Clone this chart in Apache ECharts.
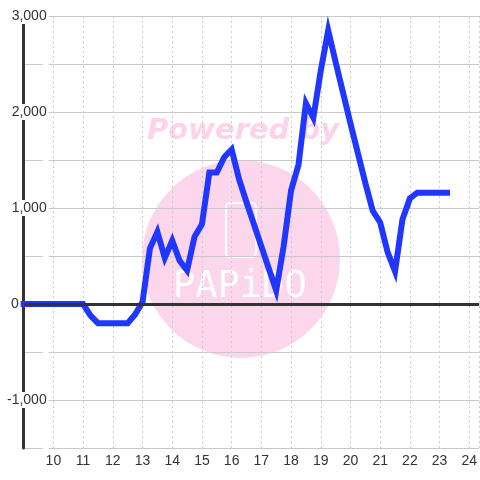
<!DOCTYPE html>
<html>
<head>
<meta charset="utf-8">
<script src="https://cdn.jsdelivr.net/npm/echarts@6/dist/echarts.min.js"></script>
<style>
html, body { margin: 0; padding: 0; background: #fff; }
#chart { width: 480px; height: 480px; }
</style>
</head>
<body>
<div id="chart"></div>
<script>
// quarter-hour readings
var times = ['9:00', '9:15', '9:30', '9:45', '10:00', '10:15', '10:30', '10:45',
  '11:00', '11:15', '11:30', '11:45', '12:00', '12:15', '12:30', '12:45',
  '13:00', '13:15', '13:30', '13:45', '14:00', '14:15', '14:30', '14:45',
  '15:00', '15:15', '15:30', '15:45', '16:00', '16:15', '16:30', '16:45',
  '17:00', '17:15', '17:30', '17:45', '18:00', '18:15', '18:30', '18:45',
  '19:00', '19:15', '19:30', '19:45', '20:00', '20:15', '20:30', '20:45',
  '21:00', '21:15', '21:30', '21:45', '22:00', '22:15', '22:30', '22:45',
  '23:00', '23:15'];
var values = [0, 0, 0, 0, 0, 0, 0, 0,
  0, -120, -200, -200, -200, -200, -200, -110,
  20, 580, 750, 480, 660, 450, 350, 700,
  830, 1370, 1370, 1530, 1610, 1300, 1060, 830,
  600, 370, 140, 600, 1180, 1450, 2090, 1940,
  2430, 2850, 2520, 2200, 1880, 1570, 1260, 970,
  850, 540, 340, 880, 1100, 1160, 1160, 1160,
  1160, 1160];
var xTickLabels = [10, 11, 12, 13, 14, 15, 16, 17, 18, 19, 20, 21, 22, 23, 24];
var yTickLabels = [-1000, 1000, 2000, 3000];

function toHour(s) {
  var p = s.split(':');
  return +p[0] + (+p[1]) / 60;
}

var seriesData = [];
for (var i = 0; i < times.length; i++) {
  seriesData.push([toHour(times[i]), values[i]]);
}

var font = 'Liberation Sans';
var chart = echarts.init(document.getElementById('chart'));
var option = {
  animation: false,
  backgroundColor: '#ffffff',
  grid: { left: 20, right: 0, top: 16, bottom: 32 },
  graphic: [
    {
      type: 'circle', z: -1,
      shape: { cx: 241, cy: 259, r: 99 },
      style: { fill: '#fcd6eb' }
    },
    {
      type: 'text', z: -1, left: 147, top: 117,
      style: {
        text: 'Powered by', fill: '#fcd3ea',
        font: 'italic bold 29px "DejaVu Sans"'
      }
    },
    {
      type: 'rect', z: -1,
      shape: { x: 226, y: 203, width: 30, height: 54, r: 4 },
      style: { fill: 'none', stroke: '#ffffff', lineWidth: 2 }
    },
    {
      type: 'text', z: -1, left: 173, top: 269,
      style: {
        text: 'PAPiDO', fill: '#ffffff',
        font: '37px "DejaVu Sans Mono"'
      }
    }
  ],
  xAxis: {
    type: 'value',
    min: 9,
    max: 24 + 1 / 3,
    interval: 1,
    axisLine: { show: false },
    axisTick: { show: false },
    splitLine: { show: true, lineStyle: { color: '#cccccc', type: [2, 3], width: 1 } },
    axisLabel: {
      margin: 6,
      color: '#333',
      fontSize: 14,
      fontFamily: font,
      showMaxLabel: false,
      formatter: function (v) {
        return xTickLabels.indexOf(v) >= 0 ? String(v) : '';
      }
    }
  },
  yAxis: [
    {
      type: 'value',
      min: -1500,
      max: 3000,
      interval: 500,
      z: 1,
      axisLine: { show: true, lineStyle: { color: '#333', width: 3 } },
      axisTick: { show: false },
      splitLine: { show: false },
      axisLabel: {
        margin: -25,
        color: '#333',
        fontSize: 14,
        fontFamily: font,
        backgroundColor: '#ffffff',
        padding: [1, 2, 1, 4],
        formatter: function (v) {
          return yTickLabels.indexOf(v) >= 0 ? v.toLocaleString('en-US') : '';
        }
      }
    },
    {
      type: 'value',
      min: -1500,
      max: 3000,
      interval: 500,
      z: 0,
      position: 'right',
      axisLine: { show: false },
      axisTick: { show: false },
      axisLabel: { show: false },
      splitLine: { show: true, lineStyle: { color: '#c8c8c8', width: 1 } }
    }
  ],
  series: [
    {
      type: 'line',
      z: 1,
      data: [],
      markLine: {
        silent: true,
        symbol: 'none',
        animation: false,
        lineStyle: { color: '#333', width: 3, type: 'solid' },
        label: {
          position: 'start', distance: 5, formatter: '0',
          color: '#333', fontSize: 14, fontFamily: font
        },
        data: [{ yAxis: 0 }]
      }
    },
    {
      type: 'line',
      z: 2,
      data: seriesData,
      showSymbol: false,
      lineStyle: { color: '#1f37ff', width: 6, cap: 'square', join: 'miter' }
    }
  ]
};
chart.setOption(option);
</script>
</body>
</html>
